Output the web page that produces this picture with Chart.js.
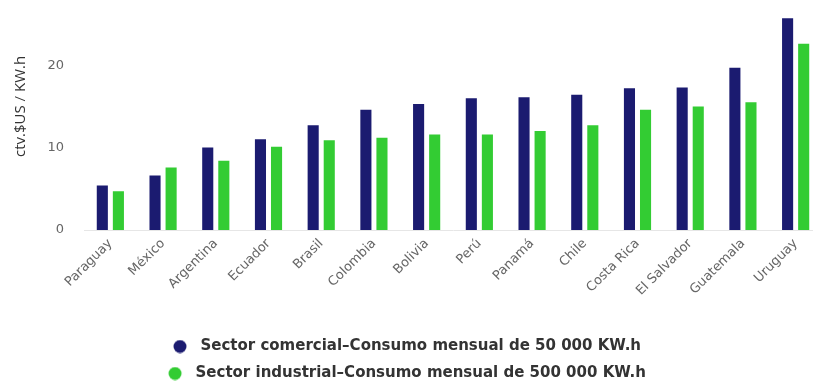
<!DOCTYPE html>
<html>
<head>
<meta charset="utf-8">
<script src="https://cdn.jsdelivr.net/npm/chart.js@4.4.1/dist/chart.umd.min.js"></script>
<style>
    html, body { margin: 0; padding: 0; background: #fff; overflow: hidden; }
    #wrap { position: relative; width: 813px; height: 382px; overflow: hidden; }
    #tariffChart { position: absolute; left: 0; top: -45px; }
</style>
</head>
<body>
<div id="wrap">
    <canvas id="tariffChart" width="830" height="436"></canvas>
</div>
<script>
// Electricity tariffs, ctv. US$ per KW.h
const countries = ['Paraguay', 'México', 'Argentina', 'Ecuador', 'Brasil', 'Colombia', 'Bolivia',
    'Perú', 'Panamá', 'Chile', 'Costa Rica', 'El Salvador', 'Guatemala', 'Uruguay'];
const commercial = [5.4, 6.6, 10.0, 11.0, 12.7, 14.6, 15.3, 16.0, 16.1, 16.4, 17.2, 17.3, 19.7, 25.7];
const industrial = [4.7, 7.6, 8.4, 10.1, 10.9, 11.2, 11.6, 11.6, 12.0, 12.7, 14.6, 15.0, 15.5, 22.6];
const yTicks = [0, 10, 20, 30];

const seriesNames = [
    'Sector comercial–Consumo mensual de 50 000 KW.h',
    'Sector industrial–Consumo mensual de 500 000 KW.h'
];
const NAVY = '#1b1b70';
const GREEN = '#33cc33';

// legend marker: the image is wider than the slot the legend reserves,
// the dot sits in its left part so it hangs a bit left of the slot
function legendDot(color) {
    const c = document.createElement('canvas');
    c.width = 32;
    c.height = 14;
    const g = c.getContext('2d');
    g.fillStyle = color;
    g.beginPath();
    g.arc(9, 7, 6.5, 0, Math.PI * 2);
    g.fill();
    return c;
}

const ctx = document.getElementById('tariffChart').getContext('2d');
new Chart(ctx, {
    type: 'bar',
    data: {
        labels: countries,
        datasets: [{
            label: seriesNames[0],
            data: commercial,
            backgroundColor: NAVY,
            pointStyle: legendDot(NAVY),
            categoryPercentage: 0.61,
            barPercentage: 0.69
        }, {
            label: seriesNames[1],
            data: industrial,
            backgroundColor: GREEN,
            pointStyle: legendDot(GREEN),
            categoryPercentage: 0.61,
            barPercentage: 0.69
        }]
    },
    options: {
        responsive: false,
        animation: false,
        layout: { padding: { top: 0, right: 8, bottom: 0, left: 0 } },
        plugins: {
            tooltip: { enabled: false },
            legend: {
                position: 'bottom',
                labels: {
                    usePointStyle: true,
                    pointStyleWidth: 12,
                    boxHeight: 12,
                    padding: 12,
                    color: '#333333',
                    font: { family: 'DejaVu Sans', size: 15, weight: 'bold' }
                }
            }
        },
        scales: {
            x: {
                grid: { display: false, drawTicks: false },
                border: { display: true, color: '#e6e6e6', width: 1 },
                afterFit: (scale) => { scale.height = 97; },
                ticks: {
                    minRotation: 45,
                    maxRotation: 45,
                    padding: 6,
                    color: '#666666',
                    font: { family: 'DejaVu Sans', size: 13 }
                }
            },
            y: {
                min: 0,
                max: 30,
                afterBuildTicks: (scale) => {
                    scale.ticks = yTicks.map(v => ({ value: v }));
                },
                afterFit: (scale) => { scale.width = 84; },
                grid: { display: false, drawTicks: false },
                border: { display: false },
                ticks: {
                    padding: 20,
                    color: '#666666',
                    font: { family: 'DejaVu Sans', size: 13 }
                },
                title: {
                    display: true,
                    text: 'ctv.$US / KW.h',
                    color: '#333333',
                    padding: { top: 12, bottom: 4 },
                    font: { family: 'Open Sans', size: 15 }
                }
            }
        }
    }
});
</script>
</body>
</html>
